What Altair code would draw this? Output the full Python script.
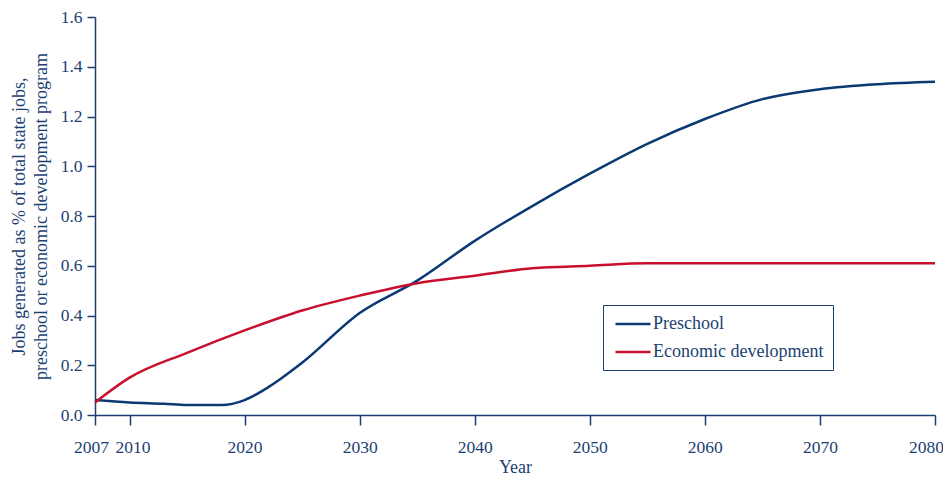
import altair as alt
import pandas as pd

years_pre = [2007, 2010, 2013, 2015, 2018, 2020, 2022, 2025, 2030, 2035, 2040, 2045, 2050, 2055, 2060, 2065, 2070, 2075, 2080]
preschool = [0.06, 0.05, 0.045, 0.04, 0.04, 0.06, 0.11, 0.21, 0.41, 0.54, 0.70, 0.84, 0.97, 1.09, 1.19, 1.27, 1.31, 1.33, 1.34]

years_eco = [2007, 2010, 2015, 2020, 2025, 2030, 2035, 2040, 2045, 2050, 2055, 2060, 2070, 2080]
economic = [0.05, 0.15, 0.25, 0.34, 0.42, 0.48, 0.53, 0.56, 0.59, 0.60, 0.61, 0.61, 0.61, 0.61]

series_names = ["Preschool", "Economic development"]
x_ticks = [2007, 2010, 2020, 2030, 2040, 2050, 2060, 2070, 2080]
y_ticks = [0.0, 0.2, 0.4, 0.6, 0.8, 1.0, 1.2, 1.4, 1.6]

df = pd.concat([
    pd.DataFrame({"Year": years_pre, "Value": preschool, "Series": series_names[0]}),
    pd.DataFrame({"Year": years_eco, "Value": economic, "Series": series_names[1]}),
])

TXT = "#1c3f73"
FONT = "Liberation Serif"

chart = alt.Chart(df).mark_line(interpolate="monotone", strokeWidth=2.5).encode(
    x=alt.X("Year:Q", scale=alt.Scale(domain=[2007, 2080], nice=False, zero=False),
            axis=alt.Axis(values=x_ticks, format="d", title="Year", grid=False,
                          labelOverlap=False, labelBound=False, labelFlush=False,
                          labelOffset=alt.expr("datum.value == 2007 ? -4 : (datum.value == 2010 ? 3 : (datum.value == 2080 ? -9 : 0))"),
                          tickSize=10, labelPadding=13, titlePadding=3)),
    y=alt.Y("Value:Q", scale=alt.Scale(domain=[0, 1.6], nice=False),
            axis=alt.Axis(values=y_ticks, format=".1f", grid=False, tickSize=8, labelPadding=5,
                          labelOverlap=False, labelBound=False, labelFlush=False,
                          title=["Jobs generated as % of total state jobs,",
                                 "preschool or economic development program"],
                          titlePadding=10)),
    color=alt.Color("Series:N",
                    scale=alt.Scale(domain=series_names, range=["#0b3a73", "#c8102e"]),
                    legend=alt.Legend(title=None, orient="none", legendX=508, legendY=288,
                                      symbolType="M-2,0H2", symbolSize=306, symbolStrokeWidth=2.5,
                                      symbolOffset=11,
                                      labelFontSize=18, labelFont=FONT, labelColor=TXT,
                                      labelOffset=10,
                                      strokeColor=TXT, padding=9, rowPadding=9,
                                      labelLimit=300, fillColor="white")),
).properties(
    width=840, height=398,
    autosize=alt.AutoSizeParams(type="none"),
    padding={"left": 87, "top": 9, "right": 8, "bottom": 62},
).configure_view(stroke=None).configure_axis(
    labelFont=FONT, titleFont=FONT, labelFontSize=17.5, titleFontSize=18,
    labelColor=TXT, titleColor=TXT, domainColor=TXT, tickColor=TXT,
    titleFontWeight="normal", domainWidth=1.5, tickWidth=1.5, titleLineHeight=22,
)

chart.save("out.html", embed_options={"renderer": "svg", "actions": False})
